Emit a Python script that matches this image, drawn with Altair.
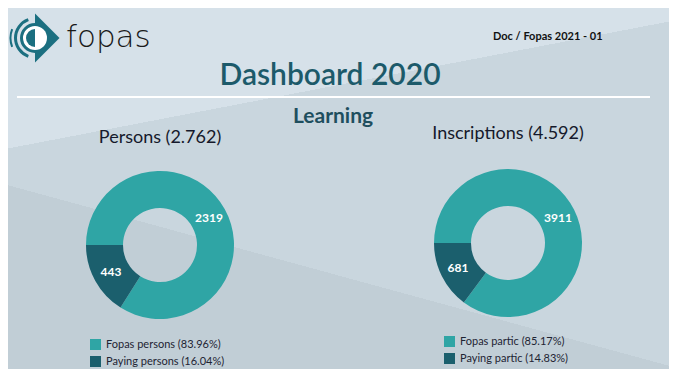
import math
import altair as alt
import pandas as pd

# ---------------- data ----------------
persons_cats = ["Fopas persons", "Paying persons"]
persons_vals = [2319, 443]
inscr_cats = ["Fopas partic", "Paying partic"]
inscr_vals = [3911, 681]
persons_name = "Persons"
inscr_name = "Inscriptions"
main_title = "Dashboard 2020"
section_title = "Learning"
doc_ref = "Doc / Fopas 2021 - 01"
brand = "fopas"

# ---------------- layout / style ----------------
W, H = 661, 361
OFF = 8


def px(v):
    return v - OFF


LIGHT = "#2fa5a5"
DARK = "#1b5f6d"
LOGO = "#1b6f80"
BG_TOP = "#d6e1e9"
BG_MID = "#c9d6de"
BG_LOW = "#c1ced6"
FONT = "Lato"

one = pd.DataFrame({"k": [0]})


def thousands(n):
    return f"{n:,}".replace(",", ".")


def split_gradient(p, q, bx, by, bw, bh, c_before, c_after):
    (x1, y1), (x2, y2) = [((a - OFF - bx) / bw, (b - OFF - by) / bh) for a, b in (p, q)]
    dx, dy = x2 - x1, y2 - y1
    nx, ny = -dy, dx
    if ny < 0:
        nx, ny = -nx, -ny
    corners = [(0, 0), (1, 0), (0, 1), (1, 1)]
    projs = [cx * nx + cy * ny for cx, cy in corners]
    s0, s1 = min(projs), max(projs)
    nn = nx * nx + ny * ny
    t = ((x1 * nx + y1 * ny) - s0) / (s1 - s0)
    return alt.LinearGradient(
        gradient="linear",
        x1=nx * s0 / nn, y1=ny * s0 / nn, x2=nx * s1 / nn, y2=ny * s1 / nn,
        stops=[
            alt.GradientStop(color=c_before, offset=0),
            alt.GradientStop(color=c_before, offset=t),
            alt.GradientStop(color=c_after, offset=t),
            alt.GradientStop(color=c_after, offset=1),
        ],
    )


# background bands
bg1 = alt.Chart(one).mark_rect(
    fill=split_gradient((0, 150), (677, 20), 0, 0, W, H, BG_TOP, BG_MID)
).encode(x=alt.value(0), x2=alt.value(W), y=alt.value(0), y2=alt.value(H))

b2y = px(152)
bg2 = alt.Chart(one).mark_rect(
    fill=split_gradient((0, 183), (677, 368), 0, b2y, W, H - b2y, BG_MID, BG_LOW)
).encode(x=alt.value(0), x2=alt.value(W), y=alt.value(b2y), y2=alt.value(H))

# logo
lcx, lcy = px(35), px(38)
tri = alt.Chart(one).mark_point(
    shape="M0,-1L1,0L0,1Z", size=2401, filled=True, fill=LOGO, opacity=1, strokeWidth=0
).encode(x=alt.value(lcx), y=alt.value(lcy))


def ring(r0, r1, t0, t1, color):
    return alt.Chart(one).mark_arc(
        radius=r0, radius2=r1, theta=t0, theta2=t1, fill=color
    ).encode(x=alt.value(lcx), y=alt.value(lcy))


logo_layers = [
    tri,
    ring(0, 12, 0, 2 * math.pi, "white"),
    ring(0, 9, math.pi, 2 * math.pi, LOGO),
    ring(12, 15, math.pi, 2 * math.pi, LOGO),
    ring(18, 21, math.pi + 0.35, 2 * math.pi - 0.35, LOGO),
    ring(23.5, 25.5, math.pi + 1.2, 2 * math.pi - 1.2, LOGO),
]

brand_txt = alt.Chart(one).mark_text(
    text=brand, font="DejaVu Sans", fontSize=31, fontWeight=200, color="#1a1a1a",
    align="left", baseline="alphabetic"
).encode(x=alt.value(px(66)), y=alt.value(px(47)))


def label(text, x, y, size, color, weight="normal", align="center"):
    return alt.Chart(one).mark_text(
        text=text, font=FONT, fontSize=size, fontWeight=weight, color=color, align=align, baseline="alphabetic"
    ).encode(x=alt.value(px(x)), y=alt.value(px(y)))


texts = [
    label(doc_ref, 493, 40, 11, "#111111", "bold", "left"),
    label(main_title, 330, 85, 30, "#1c5a6a", 600),
    label(section_title, 333, 123, 21, "#1f4f5e", "bold"),
    label(f"{persons_name} ({thousands(sum(persons_vals))})", 160, 143, 18, "#15192b"),
    label(f"{inscr_name} ({thousands(sum(inscr_vals))})", 508, 139, 18, "#15192b"),
]

rule = alt.Chart(one).mark_rule(color="white", strokeWidth=2).encode(
    x=alt.value(px(17)), x2=alt.value(px(650)), y=alt.value(px(97))
)


def donut_df(cats, vals):
    tot = sum(vals)
    return pd.DataFrame({
        "label": [f"{c} ({v / tot * 100:.2f}%)" for c, v in zip(cats, vals)],
        "value": vals,
        "order": list(range(len(vals))),
    })


def donut(cats, vals, cx, cy, lx, ly):
    df = donut_df(cats, vals)
    theta = alt.Theta("value:Q", stack=True,
                      scale=alt.Scale(range=[1.5 * math.pi, 3.5 * math.pi]))
    base = alt.Chart(df).encode(
        theta=theta, order=alt.Order("order:Q"),
        x=alt.value(px(cx)), y=alt.value(px(cy)),
    )
    arcs = base.mark_arc(innerRadius=37, outerRadius=74).encode(
        color=alt.Color(
            "label:N",
            scale=alt.Scale(domain=list(df["label"]), range=[LIGHT, DARK]),
            title=None,
            legend=alt.Legend(
                orient="none", legendX=px(lx), legendY=px(ly),
                symbolType="square", symbolSize=121, symbolStrokeWidth=0,
                symbolOpacity=1, labelFont=FONT, labelFontSize=11,
                labelColor="#1e2433", rowPadding=5, labelOffset=5,
            ),
        )
    )
    lbl = base.mark_text(radius=56, font=FONT, fontSize=12, fontWeight="bold", color="white").encode(
        text=alt.Text("value:Q", format="d")
    )
    return [arcs, lbl]


d1 = donut(persons_cats, persons_vals, 160, 245, 90, 339)
d2 = donut(inscr_cats, inscr_vals, 508, 243, 444, 336)

chart = alt.layer(
    bg1, bg2, *logo_layers, brand_txt, rule, *texts, *d1, *d2
).resolve_scale(
    theta="independent", color="independent"
).properties(
    width=W, height=H, padding=0, autosize=alt.AutoSizeParams(type="none"), background=BG_TOP
).configure_view(stroke=None)

chart.save("out.html", embed_options={"renderer": "svg", "actions": False})
